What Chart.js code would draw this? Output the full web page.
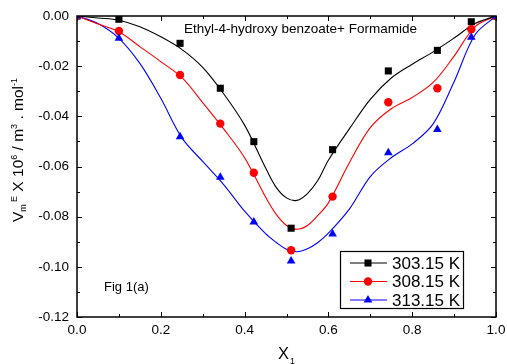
<!DOCTYPE html>
<html>
<head>
<meta charset="utf-8">
<script src="https://cdn.jsdelivr.net/npm/chart.js@4.4.0/dist/chart.umd.min.js"></script>
<style>
  html, body { margin: 0; padding: 0; background: #fff; }
  #wrap { width: 507px; height: 364px; }
</style>
</head>
<body>
<div id="wrap"><canvas id="veChart" width="507" height="364"></canvas></div>
<script>
// measured points (mole fraction x1 vs excess molar volume)
const moleFraction = [0, 0.100, 0.246, 0.342, 0.422, 0.511, 0.610, 0.743, 0.860, 0.941, 1];
const ve303 = [0, -0.0013, -0.0109, -0.0288, -0.0501, -0.0846, -0.0533, -0.0219, -0.0137, -0.0023, 0];
const ve308 = [0, -0.0060, -0.0235, -0.0429, -0.0625, -0.0934, -0.0720, -0.0344, -0.0288, -0.0053, 0];
const ve313 = [0, -0.0089, -0.0481, -0.0643, -0.0821, -0.0977, -0.0869, -0.0545, -0.0452, -0.0085, 0];

// fitted curves
const fitX = [0, 0.05, 0.1, 0.15, 0.2, 0.25, 0.3, 0.35, 0.4, 0.45, 0.475, 0.5, 0.525, 0.55, 0.575, 0.6, 0.65, 0.7, 0.75, 0.8, 0.85, 0.9, 0.95, 1];
const fit303 = [0, -0.0008, -0.0017, -0.0043, -0.0083, -0.0133, -0.0205, -0.0310, -0.0435, -0.0605, -0.0682, -0.0725, -0.0735, -0.0708, -0.0655, -0.0575, -0.0450, -0.0332, -0.0247, -0.0192, -0.0143, -0.0088, -0.0030, 0];
const fit308 = [0, -0.0032, -0.0063, -0.0122, -0.0182, -0.0245, -0.0345, -0.0450, -0.0565, -0.0722, -0.0790, -0.0835, -0.0850, -0.0835, -0.0795, -0.0745, -0.0585, -0.0445, -0.0370, -0.0325, -0.0265, -0.0160, -0.0042, 0];
const fit313 = [0, -0.0030, -0.0089, -0.0189, -0.0328, -0.0485, -0.0580, -0.0672, -0.0778, -0.0868, -0.0902, -0.0930, -0.0940, -0.0928, -0.0903, -0.0866, -0.0770, -0.0640, -0.0565, -0.0510, -0.0430, -0.0262, -0.0075, 0];

const seriesLabels = ['303.15 K', '308.15 K', '313.15 K'];
const xTickLabels = ['0.0', '0.2', '0.4', '0.6', '0.8', '1.0'];
const yTickLabels = ['0.00', '-0.02', '-0.04', '-0.06', '-0.08', '-0.10', '-0.12'];

const FONT = '"Liberation Sans", Arial, sans-serif';
const colors = ['#000000', '#ff0000', '#0000ff'];
const styles = ['rect', 'circle', 'triangle'];
const radii = [5, 4.2, 5];

function toPoints(xs, ys) {
    return xs.map((x, i) => ({ x: x, y: ys[i] }));
}

function drawMarker(ctx, style, r, x, y) {
    ctx.beginPath();
    if (style === 'rect') {
        const s = Math.SQRT1_2 * r;
        ctx.rect(x - s, y - s, 2 * s, 2 * s);
    } else if (style === 'circle') {
        ctx.arc(x, y, r, 0, Math.PI * 2);
    } else {
        ctx.moveTo(x, y - r);
        ctx.lineTo(x + Math.sin(2 * Math.PI / 3) * r, y + r / 2);
        ctx.lineTo(x - Math.sin(2 * Math.PI / 3) * r, y + r / 2);
        ctx.closePath();
    }
    ctx.fill();
}

// frame, inward ticks, titles, notes and legend in the Origin look
const originLook = {
    id: 'originLook',
    afterDraw(chart) {
        const ctx = chart.ctx;
        const area = chart.chartArea;
        const xs = chart.scales.x;
        const ys = chart.scales.y;
        ctx.save();
        ctx.strokeStyle = '#000';
        ctx.lineWidth = 1.5;
        ctx.strokeRect(area.left, area.top, area.right - area.left, area.bottom - area.top);

        ctx.lineWidth = 1;
        ctx.beginPath();
        for (let i = 0; i <= 10; i++) {
            const px = Math.round(xs.getPixelForValue(i / 10)) + 0.5;
            const len = i % 2 === 0 ? 5 : 3;
            ctx.moveTo(px, area.bottom); ctx.lineTo(px, area.bottom - len);
            ctx.moveTo(px, area.top); ctx.lineTo(px, area.top + len);
        }
        for (let i = 0; i <= 12; i++) {
            const py = Math.round(ys.getPixelForValue(-i / 100)) + 0.5;
            const len = i % 2 === 0 ? 5 : 3;
            ctx.moveTo(area.left, py); ctx.lineTo(area.left + len, py);
            ctx.moveTo(area.right, py); ctx.lineTo(area.right - len, py);
        }
        ctx.stroke();

        ctx.fillStyle = '#000';
        ctx.textBaseline = 'alphabetic';

        // y axis title, rotated, with sub/superscripts
        const parts = [
            ['V', 15.5, 0], ['m', 9, 3], [' ', 8, 0], ['E', 9, -6], [' X 10', 15.5, 0], ['6', 9, -6],
            [' / m', 15.5, 0], ['3', 9, -6], [' . mol', 15.5, 0], ['-1', 9, -6]
        ];
        ctx.save();
        ctx.translate(23, 222);
        ctx.rotate(-Math.PI / 2);
        let pos = 0;
        parts.forEach(p => {
            ctx.font = p[1] + 'px ' + FONT;
            ctx.fillText(p[0], pos, p[2]);
            pos += ctx.measureText(p[0]).width;
        });
        ctx.restore();

        // x axis title
        ctx.font = '16.5px ' + FONT;
        ctx.fillText('X', 278, 359);
        ctx.font = '9px ' + FONT;
        ctx.fillText('1', 290, 364);

        // notes
        ctx.font = '13.5px ' + FONT;
        ctx.textBaseline = 'middle';
        ctx.fillText('Ethyl-4-hydroxy benzoate+ Formamide', 184, 29);
        ctx.font = '13px ' + FONT;
        ctx.fillText('Fig 1(a)', 104, 287);

        // legend
        ctx.lineWidth = 1.2;
        ctx.strokeRect(340.5, 251.5, 123, 57);
        const rows = [263, 281.5, 300];
        seriesLabels.forEach((lab, i) => {
            ctx.strokeStyle = colors[i];
            ctx.fillStyle = colors[i];
            ctx.lineWidth = 1;
            ctx.beginPath();
            ctx.moveTo(350, rows[i]); ctx.lineTo(387, rows[i]);
            ctx.stroke();
            drawMarker(ctx, styles[i], radii[i], 368, rows[i]);
            ctx.fillStyle = '#000';
            ctx.font = '17px ' + FONT;
            ctx.fillText(lab, 392, rows[i] + 1);
        });
        ctx.restore();
    }
};

const measured = [ve303, ve308, ve313];
const fits = [fit303, fit308, fit313];
const datasets = [];
measured.forEach((vals, i) => {
    datasets.push({
        label: seriesLabels[i],
        data: toPoints(moleFraction, vals),
        showLine: false,
        pointStyle: styles[i],
        pointRadius: radii[i],
        pointBackgroundColor: colors[i],
        pointBorderColor: colors[i],
        pointBorderWidth: 0,
        order: 3 - i
    });
});
fits.forEach((vals, i) => {
    datasets.push({
        label: seriesLabels[i] + ' fit',
        data: toPoints(fitX, vals),
        borderColor: colors[i],
        borderWidth: 1.1,
        pointRadius: 0,
        tension: 0.35,
        order: 10 + i
    });
});

new Chart(document.getElementById('veChart'), {
    type: 'line',
    data: { datasets: datasets },
    options: {
        responsive: false,
        animation: false,
        layout: { padding: { top: 16, right: 11, left: 0, bottom: 0 } },
        plugins: { legend: { display: false }, tooltip: { enabled: false } },
        scales: {
            x: {
                type: 'linear', min: 0, max: 1,
                grid: { display: false, drawTicks: false },
                border: { display: false },
                ticks: {
                    stepSize: 0.2, padding: 5, color: '#000', maxRotation: 0,
                    font: { family: FONT, size: 13.5 },
                    callback: (v) => xTickLabels[Math.round(v * 5)]
                },
                afterFit: (s) => { s.height = 47; s.paddingLeft = 0; s.paddingRight = 0; }
            },
            y: {
                type: 'linear', min: -0.12, max: 0,
                grid: { display: false, drawTicks: false },
                border: { display: false },
                ticks: {
                    stepSize: 0.02, padding: 8, color: '#000',
                    font: { family: FONT, size: 13.5 },
                    callback: (v) => yTickLabels[Math.round(-v * 50)]
                },
                afterFit: (s) => { s.width = 77; s.paddingTop = 0; s.paddingBottom = 0; }
            }
        }
    },
    plugins: [originLook]
});
</script>
</body>
</html>
